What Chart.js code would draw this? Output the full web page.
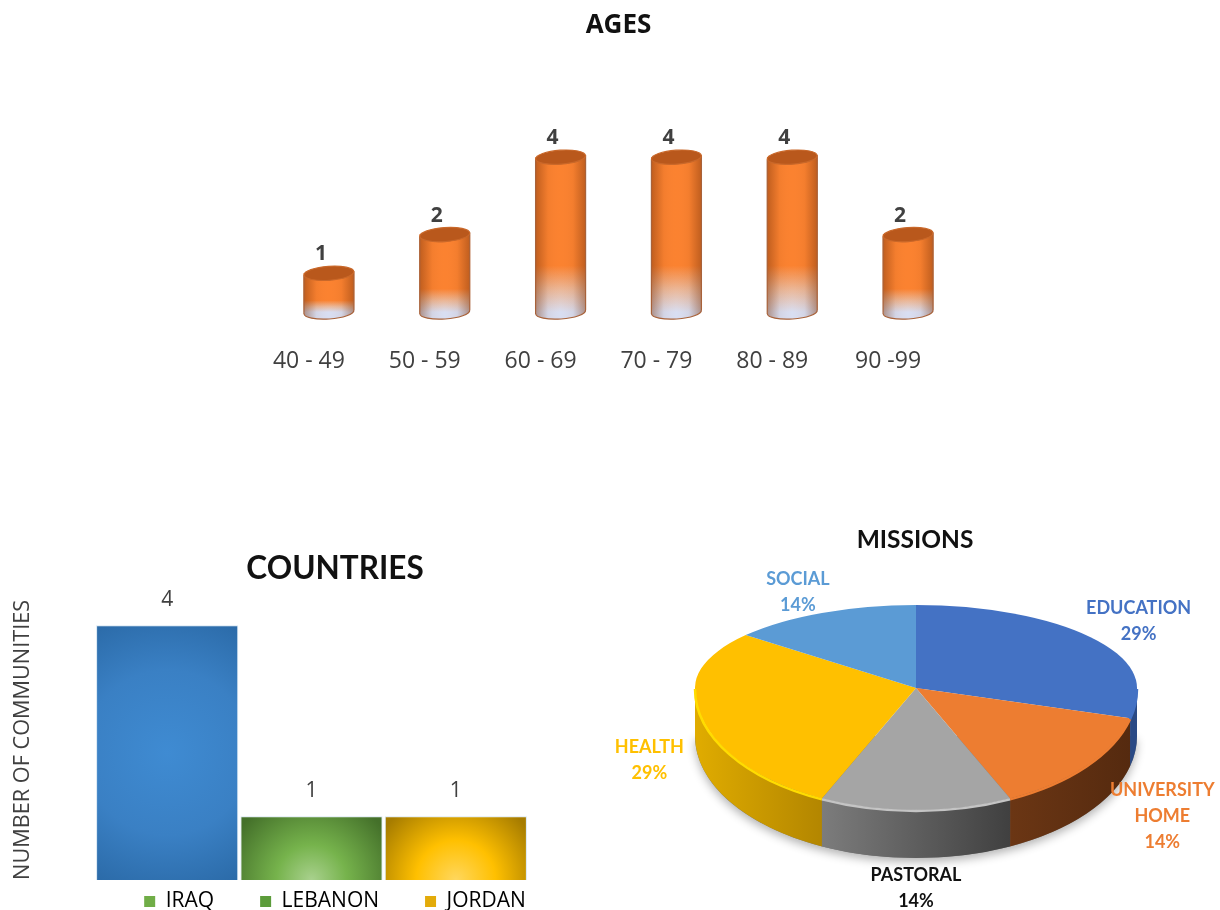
<!DOCTYPE html>
<html>
<head>
<meta charset="utf-8">
<title>Ages, countries, missions</title>
<script src="https://cdn.jsdelivr.net/npm/chart.js@4"></script>
<style>
  html, body { margin: 0; background: #fff; overflow: hidden; width: 1220px; height: 910px; }
  canvas { position: absolute; display: block; }
  #agesChart { left: 20px; top: 0; }
  #countriesChart { left: 0; top: 530px; }
  #missionsChart { left: 610px; top: 520px; }
</style>
</head>
<body>
<canvas id="agesChart" width="1200" height="420"></canvas>
<canvas id="countriesChart" width="664" height="380"></canvas>
<canvas id="missionsChart" width="610" height="390"></canvas>
<script>
// ---------------------------
// DATA
// ---------------------------
const ageLabels = ["40 - 49", "50 - 59", "60 - 69", "70 - 79", "80 - 89", "90 -99"];
const ageValues = [1, 2, 4, 4, 4, 2];

const countryLabels = ["IRAQ", "LEBANON", "JORDAN"];
const countryValues = [4, 1, 1];

const missionLabels = [["EDUCATION"], ["UNIVERSITY", "HOME"], ["PASTORAL"], ["HEALTH"], ["SOCIAL"]];
const missionValues = [29, 14, 14, 29, 14];

Chart.defaults.animation = false;
Chart.defaults.responsive = false;
Chart.defaults.plugins.tooltip.enabled = false;

// ---------------------------
// AGES - CYLINDERS
// ---------------------------
function cylinderFill(c) {
  const area = c.chart.chartArea;
  if (!area) return "#ff8833";
  const y = c.chart.scales.y;
  const top = y.getPixelForValue(c.raw);
  const g = c.chart.ctx.createLinearGradient(0, top, 0, y.getPixelForValue(0));
  g.addColorStop(0, "#fb8230");
  g.addColorStop(0.7, "#fb8230");
  g.addColorStop(0.86, "#eab99c");
  g.addColorStop(1, "#d8def2");
  return g;
}

const cylinderPlugin = {
  id: "cylinders",
  beforeDatasetsDraw(chart) {
    const ctx = chart.ctx;
    chart.getDatasetMeta(0).data.forEach(bar => {
      ctx.beginPath();
      ctx.ellipse(bar.x, bar.base, 25, 7, -0.07, 0, Math.PI * 2);
      ctx.fillStyle = "#d8def2";
      ctx.fill();
    });
  },
  afterDatasetsDraw(chart) {
    const ctx = chart.ctx;
    chart.getDatasetMeta(0).data.forEach((bar, i) => {
      const left = bar.x - 25, right = bar.x + 25;
      // round shading over the flat library bar
      const shade = ctx.createLinearGradient(left, 0, right, 0);
      shade.addColorStop(0, "rgba(120,50,10,0.45)");
      shade.addColorStop(0.25, "rgba(120,50,10,0.06)");
      shade.addColorStop(0.5, "rgba(255,150,80,0)");
      shade.addColorStop(0.75, "rgba(120,50,10,0.06)");
      shade.addColorStop(1, "rgba(120,50,10,0.45)");
      ctx.beginPath();
      ctx.moveTo(left, bar.y);
      ctx.lineTo(right, bar.y);
      ctx.ellipse(bar.x, bar.base, 25, 7, -0.07, 0, Math.PI);
      ctx.closePath();
      ctx.fillStyle = shade;
      ctx.fill();

      // outline, sides and front of the base
      ctx.beginPath();
      ctx.moveTo(left, bar.y + 2);
      ctx.lineTo(left, bar.base + 2);
      ctx.moveTo(right, bar.y - 2);
      ctx.lineTo(right, bar.base - 2);
      ctx.moveTo(right, bar.base - 2);
      ctx.ellipse(bar.x, bar.base, 25, 7, -0.07, 0, Math.PI);
      ctx.strokeStyle = "#a8623a";
      ctx.lineWidth = 1.2;
      ctx.stroke();

      ctx.beginPath();
      ctx.ellipse(bar.x, bar.y, 25, 7, -0.07, 0, Math.PI * 2);
      ctx.fillStyle = "#b9581c";
      ctx.fill();
      ctx.strokeStyle = "#c9682a";
      ctx.stroke();

      ctx.fillStyle = "#404040";
      ctx.font = "bold 21px 'Open Sans'";
      ctx.textAlign = "center";
      ctx.textBaseline = "middle";
      ctx.fillText(ageValues[i], bar.x - 8, bar.y - 19);
    });
  }
};

new Chart(document.getElementById("agesChart"), {
  type: "bar",
  data: {
    labels: ageLabels,
    datasets: [{ data: ageValues, backgroundColor: cylinderFill, barThickness: 50 }]
  },
  options: {
    layout: { padding: { left: 251, right: 254 } },
    plugins: {
      legend: { display: false },
      title: {
        display: true,
        text: "AGES",
        color: "#111",
        font: { family: "Open Sans", size: 26, weight: "bold" },
        padding: { top: 10, bottom: 116 }
      }
    },
    scales: {
      y: { display: false, min: 0, max: 4 },
      x: {
        grid: { display: false },
        border: { display: false },
        afterFit(scale) { scale.height = 108; },
        ticks: {
          color: "#404040",
          font: { family: "Open Sans", size: 23 },
          padding: 28,
          labelOffset: -20,
          maxRotation: 0
        }
      }
    }
  },
  plugins: [cylinderPlugin]
});

// ---------------------------
// COUNTRIES
// ---------------------------
const countryStops = [
  [[0, "#3f8bd2"], [0.55, "#3a80c4"], [1, "#2a69a6"]],
  [[0, "#a9d18e"], [0.4, "#76b34c"], [1, "#44702a"]],
  [[0, "#ffd75e"], [0.45, "#ffc000"], [1, "#a67c00"]]
];

function countryFill(c) {
  const chart = c.chart;
  if (!chart.chartArea) return "#3a80c4";
  const cx = chart.scales.x.getPixelForValue(c.dataIndex);
  const top = chart.scales.y.getPixelForValue(c.raw);
  const bottom = chart.scales.y.getPixelForValue(0);
  const first = c.dataIndex === 0;
  const cy = first ? (top + bottom) / 2 : bottom;
  const g = chart.ctx.createRadialGradient(cx, cy, 0, cx, cy, first ? 150 : 88);
  countryStops[c.dataIndex].forEach(s => g.addColorStop(s[0], s[1]));
  return g;
}

const countryValuePlugin = {
  id: "countryValues",
  afterDatasetsDraw(chart) {
    const ctx = chart.ctx;
    ctx.fillStyle = "#404040";
    ctx.font = "21px 'Open Sans'";
    ctx.textAlign = "center";
    ctx.textBaseline = "middle";
    chart.getDatasetMeta(0).data.forEach((bar, i) => {
      ctx.fillText(countryValues[i], bar.x, bar.y - 25);
    });
  },
  // the legend needs wide gaps between items but a short row
  afterLayout(chart) {
    chart.legend.top -= 35;
    chart.legend.bottom -= 35;
  }
};

const countryMarkers = ["#70ad47", "#5c9c3b", "#e3ab0a"];

new Chart(document.getElementById("countriesChart"), {
  type: "bar",
  data: {
    labels: countryLabels,
    datasets: [{
      data: countryValues,
      backgroundColor: countryFill,
      borderColor: "rgba(205,225,240,0.8)",
      borderWidth: 1,
      categoryPercentage: 1,
      barPercentage: 0.985
    }]
  },
  options: {
    layout: { padding: { left: 6, bottom: -47 } },
    plugins: {
      title: {
        display: true,
        text: "COUNTRIES",
        color: "#111",
        font: { family: "Lato", size: 31.5, weight: "bold" },
        padding: { top: 20, bottom: 12 }
      },
      legend: {
        position: "bottom",
        labels: {
          color: "#404040",
          font: { family: "Open Sans", size: 21 },
          boxWidth: 11,
          boxHeight: 11,
          padding: 46,
          generateLabels: () => countryLabels.map((t, i) => ({
            text: t, fillStyle: countryMarkers[i], strokeStyle: countryMarkers[i], lineWidth: 0, index: i
          }))
        }
      }
    },
    scales: {
      x: { display: false },
      y: {
        min: 0,
        max: 4.4,
        grid: { display: false },
        border: { display: false },
        afterFit(scale) { scale.width = 89; },
        ticks: { display: false },
        title: {
          display: true,
          text: "NUMBER OF COMMUNITIES",
          color: "#404040",
          font: { family: "Open Sans", size: 21.7 },
          padding: 4
        }
      },
      // empty axis that keeps the bars clear of the right part of the canvas
      yPad: {
        position: "right",
        grid: { display: false },
        border: { display: false },
        ticks: { display: false },
        afterFit(scale) { scale.width = 136; }
      }
    }
  },
  plugins: [countryValuePlugin]
});

// ---------------------------
// MISSIONS - TILTED PIE
// ---------------------------
const missionColors = ["#4472c4", "#ed7d31", "#a5a5a5", "#ffc000", "#5b9bd5"];
const wallColors = [
  ["#2a4a85", "#2a4a85"], ["#6b3614", "#552a0f"], ["#7c7c7c", "#404040"],
  ["#e0ac00", "#b38600"], ["#3a6fa0", "#3a6fa0"]
];
const rimColors = ["#4472c4", "#ed7d31", "#c4c4c4", "#ffdc00", "#5b9bd5"];
const labelColors = ["#4472c4", "#ed7d31", "#111111", "#ffc000", "#5b9bd5"];

const pieLook = { cx: 306, cy: 168, rx: 221, ryTop: 83, ryBottom: 122, depth: 48 };
const labelNudges = [[48, -16], [76, 50], [0, 78], [-51, 46], [-24, -21]];

const tiltedPiePlugin = {
  id: "tiltedPie",
  beforeDatasetDraw(chart) {
    const ctx = chart.ctx;
    const p = pieLook;
    const arcs = chart.getDatasetMeta(0).data;

    // wall under the front half
    ctx.save();
    ctx.shadowColor = "rgba(0,0,0,0.3)";
    ctx.shadowBlur = 10;
    ctx.shadowOffsetY = 4;
    ctx.beginPath();
    ctx.ellipse(p.cx, p.cy + p.depth, p.rx, p.ryBottom, 0, 0, Math.PI);
    ctx.fillStyle = "#777";
    ctx.fill();
    ctx.restore();

    arcs.forEach((arc, i) => {
      const a = Math.max(arc.startAngle, 0);
      const b = Math.min(arc.endAngle, Math.PI);
      if (b <= a) return;
      const x1 = p.cx + Math.cos(a) * p.rx;
      const x2 = p.cx + Math.cos(b) * p.rx;
      const g = ctx.createLinearGradient(x2, 0, x1, 0);
      g.addColorStop(0, wallColors[i][0]);
      g.addColorStop(1, wallColors[i][1]);
      ctx.beginPath();
      ctx.ellipse(p.cx, p.cy, p.rx, p.ryBottom, 0, a, b);
      ctx.ellipse(p.cx, p.cy + p.depth, p.rx, p.ryBottom, 0, b, a, true);
      ctx.closePath();
      ctx.fillStyle = g;
      ctx.fill();
    });

    // top face: library arcs, squeezed differently above and below the apex
    [[0, p.cy + 0.5, p.ryTop], [p.cy - 0.5, chart.height, p.ryBottom]].forEach(part => {
      ctx.save();
      ctx.beginPath();
      ctx.rect(0, part[0], chart.width, part[1] - part[0]);
      ctx.clip();
      arcs.forEach(arc => {
        ctx.save();
        ctx.translate(p.cx, p.cy);
        ctx.scale(p.rx / arc.outerRadius, part[2] / arc.outerRadius);
        ctx.translate(-arc.x, -arc.y);
        arc.draw(ctx);
        ctx.restore();
      });
      ctx.restore();
    });

    // lit rim on the front edge
    arcs.forEach((arc, i) => {
      const a = Math.max(arc.startAngle, 0);
      const b = Math.min(arc.endAngle, Math.PI);
      if (b <= a) return;
      ctx.beginPath();
      ctx.ellipse(p.cx, p.cy + 1, p.rx, p.ryBottom, 0, a, b);
      ctx.strokeStyle = rimColors[i];
      ctx.lineWidth = 2.5;
      ctx.stroke();
    });
    return false;
  },
  afterDatasetsDraw(chart) {
    const ctx = chart.ctx;
    const p = pieLook;
    ctx.font = "bold 18px Lato";
    ctx.textAlign = "center";
    ctx.textBaseline = "middle";
    chart.getDatasetMeta(0).data.forEach((arc, i) => {
      const mid = (arc.startAngle + arc.endAngle) / 2;
      const ry = Math.sin(mid) > 0 ? p.ryBottom : p.ryTop;
      const x = p.cx + Math.cos(mid) * p.rx + labelNudges[i][0];
      const y = p.cy + Math.sin(mid) * ry + labelNudges[i][1];
      const lines = missionLabels[i].concat(missionValues[i] + "%");
      const h = 26;
      lines.forEach((t, n) => {
        ctx.fillStyle = labelColors[i];
        ctx.fillText(t, x, y + (n - (lines.length - 1) / 2) * h);
      });
    });
  }
};

new Chart(document.getElementById("missionsChart"), {
  type: "pie",
  data: {
    labels: missionLabels.map(l => l.join(" ")),
    datasets: [{ data: missionValues, backgroundColor: missionColors, borderWidth: 0 }]
  },
  options: {
    plugins: {
      legend: { display: false },
      title: {
        display: true,
        text: "MISSIONS",
        color: "#111",
        font: { family: "Lato", size: 24.5, weight: "bold" },
        padding: { top: 5, bottom: 4 }
      }
    }
  },
  plugins: [tiltedPiePlugin]
});
</script>
</body>
</html>
